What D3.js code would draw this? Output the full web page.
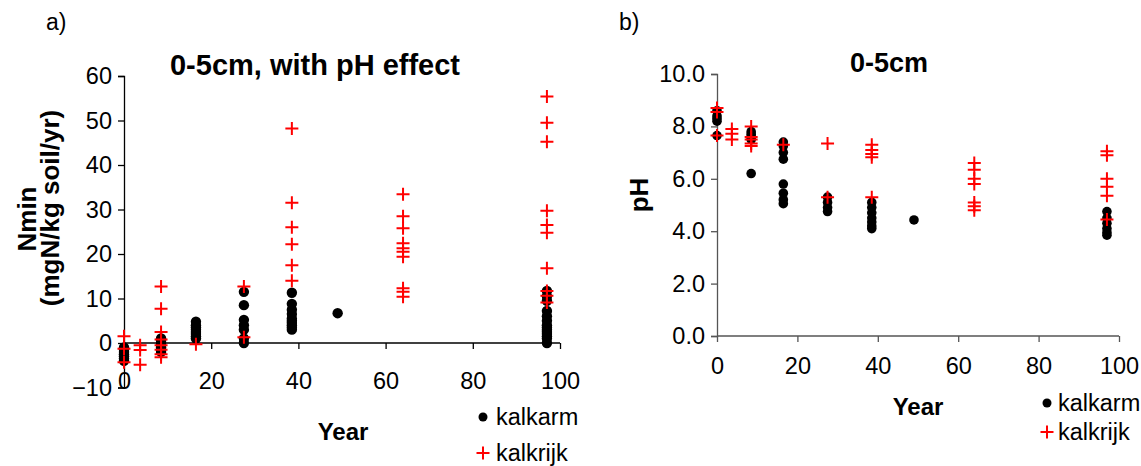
<!DOCTYPE html>
<html><head><meta charset="utf-8">
<script src="https://cdn.jsdelivr.net/npm/d3@7"></script>
<style>body{margin:0;background:#fff}svg{display:block;font-family:"Liberation Sans",Arial,sans-serif}</style>
</head><body><svg id="c" width="1141" height="466"></svg>
<script>
// ---- data: [year, value] ----
const nminKalkarm = [
 [0,-1],[0,-1.5],[0,-2],[0,-2.5],[0,-3],[0,-3.5],[0,-4],
 [8.5,1],[8.5,0.5],[8.5,0],[8.5,-0.5],[8.5,-1],[8.5,-1.5],[8.5,-2],
 [16.5,4.8],[16.5,4],[16.5,3.5],[16.5,3],[16.5,2.5],[16.5,2],[16.5,1.5],[16.5,1],
 [27.5,11.5],[27.5,8.5],[27.5,5.2],[27.5,4],[27.5,3],[27.5,1],[27.5,0],
 [38.5,11.3],[38.5,8.8],[38.5,7.5],[38.5,6.5],[38.5,5.5],[38.5,5],[38.5,4.5],[38.5,4],[38.5,3.5],[38.5,3],
 [49,6.7],
 [97,11.7],[97,10.5],[97,9.5],[97,7.2],[97,6],[97,5],[97,4],[97,3.5],[97,3],[97,2.5],[97,2],[97,1.5],[97,1],[97,0]
];
const nminKalkrijk = [
 [0,1.5],[0,-1.3],[0,-4.3],
 [3.7,-0.5],[3.7,-1.6],[3.7,-4.9],
 [8.5,12.7],[8.5,7.7],[8.5,2.5],[8.5,0.8],[8.5,-0.5],[8.5,-1.5],[8.5,-2.5],[8.5,-3.2],
 [16.5,-0.3],
 [27.5,12.7],[27.5,1.3],
 [38.5,48.2],[38.5,31.5],[38.5,26],[38.5,22.2],[38.5,17.5],[38.5,14],
 [64,33.4],[64,28.5],[64,25.8],[64,22.4],[64,21.3],[64,20.5],[64,19.4],[64,12.3],[64,11.5],[64,10.4],
 [97,55.4],[97,49.5],[97,45.2],[97,29.7],[97,26.5],[97,24.8],[97,16.8],[97,11.7],[97,10.6],[97,9.1]
];
const phKalkarm = [
 [0,8.6],[0,8.4],[0,8.3],[0,8.2],[0,7.65],
 [8.5,7.8],[8.5,7.7],[8.5,7.6],[8.5,7.5],[8.5,6.2],
 [16.5,7.4],[16.5,7.25],[16.5,7.0],[16.5,6.75],[16.5,5.8],[16.5,5.45],[16.5,5.2],[16.5,5.05],
 [27.5,5.3],[27.5,5.1],[27.5,4.9],[27.5,4.75],
 [38.5,5.1],[38.5,4.9],[38.5,4.7],[38.5,4.5],[38.5,4.35],[38.5,4.2],[38.5,4.1],
 [49,4.43],
 [97,4.75],[97,4.5],[97,4.3],[97,4.1],[97,3.95],[97,3.85]
];
const phKalkrijk = [
 [0,8.7],[0,8.55],[0,7.65],
 [3.7,7.9],[3.7,7.72],[3.7,7.5],
 [8.5,8.0],[8.5,7.6],[8.5,7.5],[8.5,7.35],[8.5,7.25],
 [16.5,7.3],
 [27.5,7.35],[27.5,5.3],
 [38.5,7.3],[38.5,7.1],[38.5,6.95],[38.5,6.82],[38.5,5.3],
 [64,6.6],[64,6.35],[64,6.0],[64,5.8],[64,5.1],[64,4.95],[64,4.8],
 [97,7.05],[97,6.9],[97,6.0],[97,5.7],[97,5.35],[97,4.45]
];
const xTicks = [0,20,40,60,80,100];
const nminTicks = [-10,0,10,20,30,40,50,60];
const phTicks = [0,2,4,6,8,10];
const legendLabels = ["kalkarm","kalkrijk"];

const svg = d3.select("#c");
const plusPath = s => `M${-s},0H${s}M0,${-s}V${s}`;

function panel(o){
  const g = svg.append("g");
  const x = d3.scaleLinear().domain([0,100]).range([o.x0,o.x1]);
  const y = d3.scaleLinear().domain(o.yDomain).range([o.yBottom,o.yTop]);
  const ya = g.append("g").attr("transform",`translate(${o.x0},0)`)
    .call(d3.axisLeft(y).tickValues(o.yTicks).tickSize(6).tickPadding(6).tickFormat(o.yFmt));
  ya.select(".domain").attr("stroke",o.axisColor).attr("stroke-width",1.3);
  ya.selectAll(".tick line").attr("stroke",o.axisColor).attr("stroke-width",1.3);
  ya.selectAll("text").attr("font-size",o.tickFs).attr("fill","#000").attr("font-family","Liberation Sans, Arial, sans-serif");
  const xa = g.append("g").attr("transform",`translate(0,${y(o.xAxisAt)})`)
    .call(d3.axisBottom(x).tickValues(xTicks).tickSize(6).tickFormat(d3.format("d")));
  xa.select(".domain").attr("stroke",o.axisColor).attr("stroke-width",1.3).attr("d",`M${o.x0},0H${o.x1}`);
  xa.selectAll(".tick line").attr("stroke",o.axisColor).attr("stroke-width",1.3);
  xa.selectAll("text").attr("font-size",o.tickFs).attr("fill","#000").attr("y",o.xLabelDy).attr("dy",0)
    .attr("font-family","Liberation Sans, Arial, sans-serif");
  g.selectAll("circle.k").data(o.black).join("circle").attr("class","k")
    .attr("cx",d=>x(d[0])).attr("cy",d=>y(d[1])).attr("r",o.r).attr("fill","#000");
  g.selectAll("path.r").data(o.red).join("path").attr("class","r")
    .attr("transform",d=>`translate(${x(d[0])},${y(d[1])})`).attr("d",plusPath(o.p))
    .attr("stroke","#ff0000").attr("stroke-width",2).attr("fill","none");
  return {x,y,g};
}

panel({x0:124,x1:560,yDomain:[-10,60],yBottom:387.5,yTop:76,yTicks:nminTicks,yFmt:d3.format("d"),
  xAxisAt:0,xLabelDy:46,axisColor:"#000",tickFs:23.5,black:nminKalkarm,red:nminKalkrijk,r:5.2,p:6.5});
panel({x0:717,x1:1119,yDomain:[0,10],yBottom:336,yTop:74,yTicks:phTicks,yFmt:d3.format(".1f"),
  xAxisAt:0,xLabelDy:38,axisColor:"#555",tickFs:23.5,black:phKalkarm,red:phKalkrijk,r:4.8,p:6.5});

function txt(x,y,s,opt={}){
  const t = svg.append("text").attr("x",x).attr("y",y).text(s)
    .attr("font-size",opt.fs||20).attr("font-weight",opt.bold?"bold":"normal")
    .attr("text-anchor",opt.anchor||"start").attr("fill","#000");
  if(opt.rot) t.attr("transform",`rotate(-90,${x},${y})`);
  return t;
}
txt(46,30,"a)",{fs:23});
txt(619,30,"b)",{fs:23});
txt(315,75,"0-5cm, with pH effect",{fs:29,bold:true,anchor:"middle"});
txt(889,72,"0-5cm",{fs:27,bold:true,anchor:"middle"});
txt(36,219,"Nmin",{fs:26,bold:true,anchor:"middle",rot:true});
txt(59,208,"(mgN/kg soil/yr)",{fs:26,bold:true,anchor:"middle",rot:true});
txt(648,195,"pH",{fs:26,bold:true,anchor:"middle",rot:true});
txt(343,440,"Year",{fs:24,bold:true,anchor:"middle"});
txt(918,415,"Year",{fs:24,bold:true,anchor:"middle"});

function legend(xm,y1,y2,xt){
  svg.append("circle").attr("cx",xm).attr("cy",y1).attr("r",4.5).attr("fill","#000");
  svg.append("path").attr("transform",`translate(${xm},${y2})`).attr("d",plusPath(6.5))
    .attr("stroke","#ff0000").attr("stroke-width",2);
  txt(xt,y1+8,legendLabels[0],{fs:23.5});
  txt(xt,y2+8,legendLabels[1],{fs:23.5});
}
legend(483,417,453,496);
legend(1047,403,432,1058);
</script></body></html>
